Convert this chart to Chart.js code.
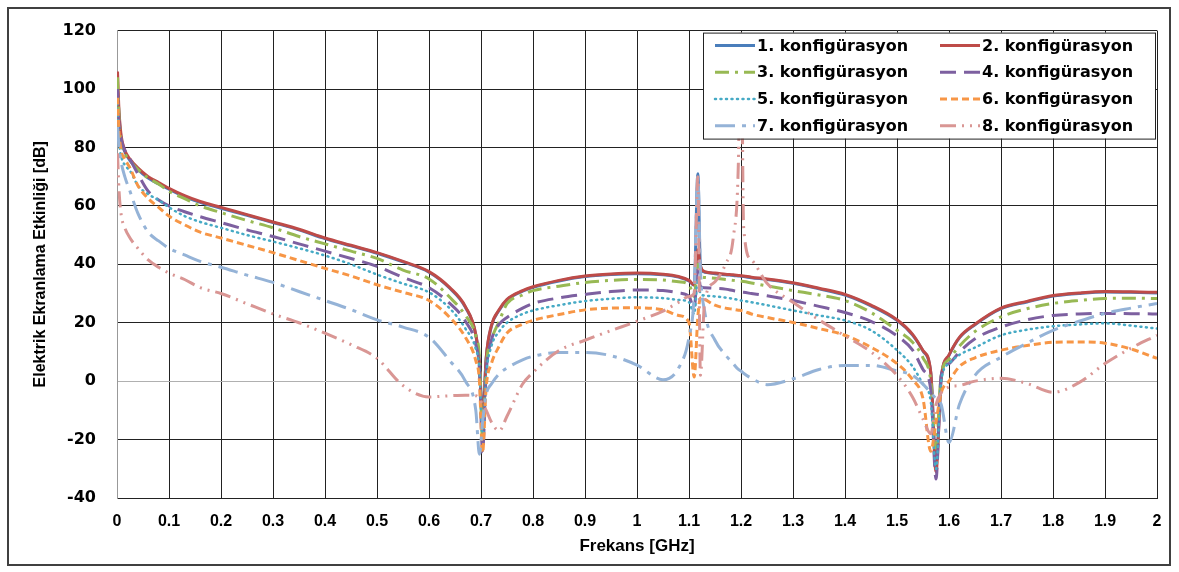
<!DOCTYPE html>
<html>
<head>
<meta charset="utf-8">
<script src="https://cdn.jsdelivr.net/npm/chart.js@4/dist/chart.umd.min.js"></script>
<style>
  html, body { margin: 0; padding: 0; background: #fff; }
  #wrap { width: 1179px; height: 572px; position: relative; }
</style>
</head>
<body>
<div id="wrap"><canvas id="myChart" width="1179" height="572"></canvas></div>
<script>
// frequency grid [GHz], shared by all series
var freq = [0.001, 0.004, 0.008, 0.015, 0.025, 0.04, 0.06, 0.08, 0.1, 0.13,
            0.16, 0.2, 0.25, 0.3, 0.35, 0.4, 0.45, 0.5, 0.55, 0.6,
            0.64, 0.67, 0.69, 0.697, 0.703, 0.71, 0.72, 0.735, 0.75, 0.78,
            0.8, 0.85, 0.9, 0.95, 1.0, 1.05, 1.08, 1.1, 1.11, 1.117,
            1.122, 1.13, 1.15, 1.17, 1.185, 1.195, 1.2, 1.205, 1.22, 1.25,
            1.3, 1.35, 1.4, 1.45, 1.5, 1.53, 1.55, 1.565, 1.575, 1.585,
            1.6, 1.62, 1.65, 1.7, 1.75, 1.8, 1.85, 1.9, 1.95, 2.0];

var seriesNames = ["1. konfigürasyon", "2. konfigürasyon", "3. konfigürasyon", "4. konfigürasyon",
                   "5. konfigürasyon", "6. konfigürasyon", "7. konfigürasyon", "8. konfigürasyon"];

// shielding effectiveness [dB]
var s1 = [100, 91, 83, 78.5, 75.5, 72.5, 69.5, 67.5, 65.7, 63.2,
          61.2, 59.2, 56.8, 54.3, 51.8, 48.8, 46.3, 43.8, 40.8, 37.3,
          31.8, 25.3, 15.8, 6, -12, 8, 18.8, 24.3, 27.8, 30.8,
          32.1, 34.3, 35.8, 36.5, 36.8, 36.4, 35.6, 34.3, 32.8, 71,
          39.3, 37.3, 36.8, 36.4, 36.2, 36, 35.9, 35.8, 35.4, 34.8,
          33.5, 31.6, 29.5, 25.8, 20.8, 15.8, 10.3, 2.8, -28, 1,
          8.8, 14.8, 19.3, 24.8, 27.1, 29.1, 30, 30.5, 30.4, 30.2];
var s2 = [106, 92, 84, 79, 76, 73, 70, 68, 66, 63.5,
          61.5, 59.5, 57, 54.5, 52, 49, 46.5, 44, 41, 37.5,
          32, 25.5, 16, 6, -15, 8, 19, 24.5, 28, 31,
          32.3, 34.5, 36, 36.7, 37, 36.6, 35.8, 34.5, 33, 45,
          39.5, 37.5, 37, 36.6, 36.4, 36.2, 36.1, 36, 35.6, 35,
          33.7, 31.8, 29.7, 26, 21, 16, 10.5, 3, -31, 1,
          9, 15, 19.5, 25, 27.3, 29.3, 30.2, 30.7, 30.6, 30.4];
var s3 = [104, 90, 82, 78, 75.5, 72.5, 69.5, 67.5, 65, 62.5,
          60, 57.7, 55, 52.5, 49.5, 47, 44.5, 42, 38, 35,
          28.7, 22.5, 15.5, 8, -20, 5, 14, 20.5, 26.5, 29.5,
          31, 32.5, 33.8, 34.5, 34.8, 34.6, 34, 33, 29, 40,
          36, 35.5, 35.2, 34.8, 34.5, 34.3, 34.2, 34.1, 33.6, 32.6,
          31, 29.5, 27.6, 23.5, 17.4, 13.3, 8, 0, -23, 2,
          7.5, 12, 17, 22, 24.8, 26.6, 27.6, 28.3, 28.4, 28.3];
var s4 = [100, 88, 83, 79, 76, 71, 65, 62, 60, 58,
          56.3, 54.3, 51.8, 49.5, 47, 44.5, 42, 39.3, 35.5, 32,
          26.6, 20.5, 12.5, 4, -24.5, 3, 14, 19.5, 21.8, 25,
          26.6, 28.5, 29.7, 30.7, 31.2, 31, 30.2, 29, 25, 38,
          32.5, 32, 31.8, 31.5, 31, 30.7, 30.5, 30.4, 30, 29.2,
          27.6, 25.6, 23.5, 20.5, 15.5, 10.6, 4, -3, -33.5, 2,
          6, 10, 14.5, 18.5, 21, 22.5, 23, 23.2, 23.1, 23];
var s5 = [95, 82, 77, 74, 72, 67, 64, 62, 59.5, 56.5,
          54.5, 52.5, 50, 47.8, 45.5, 43, 40, 36.5, 33.4, 30.4,
          24.9, 18, 11, 4, -20, 2, 12, 17, 20, 23,
          24.2, 26, 27.4, 28.2, 28.7, 28.4, 27.8, 27, 23, 35,
          30, 29.3, 29, 28.6, 28.2, 27.8, 27.6, 27.5, 27, 26,
          24.2, 22.5, 20.8, 17.4, 10.6, 5, -1, -7, -30, 0,
          6, 9, 11.5, 15.7, 17.6, 18.8, 19.4, 19.8, 19, 18];
var s6 = [97, 85, 79, 76, 73, 67, 62.5, 59.5, 56.5, 53.5,
          51, 49, 46.5, 44, 41.3, 38.6, 36, 33, 30.4, 27.6,
          21.8, 15, 7, 0, -24.5, -2, 6, 12, 16.5, 19.5,
          20.8, 22.8, 24.4, 25, 25.1, 24.4, 22.5, 20, 1.4, 22,
          28.5, 28, 26, 25, 24.6, 24.3, 24.2, 24, 23, 21.8,
          20.1, 18, 15.7, 11.6, 6, 0.5, -6, -24, -14, -4,
          0, 5, 8, 10.6, 12.2, 13.3, 13.4, 13, 11, 7.8];
var s7 = [87, 80, 75, 70, 65, 57.5, 51, 48, 45.5, 43.2,
          41, 39, 36.3, 33.8, 30.7, 27.6, 24.5, 21, 18.5, 15,
          7, 0, -10, -25, -14, -4.5, -1, 2.5, 4.5, 7.3,
          8.5, 9.8, 9.8, 8.7, 5.5, 0.5, 4.5, 15, 30, 70,
          38, 24, 14, 9, 6, 4, 3.5, 2.7, 1, -1.2,
          0.8, 4, 5.4, 5.4, 3.5, 2, -1, -4, -6, -8,
          -21, -8, 2, 8.2, 13, 17.4, 20.5, 23.2, 25, 26.6];
var s8 = [78, 65, 57, 52.5, 49, 45.5, 41.5, 39, 37, 34.8,
          32, 30, 26.5, 23, 20, 16.4, 12.5, 7.8, -1.5, -5.4,
          -5, -4.8, -5, -6, -8, -10, -14, -17, -12, -1,
          3, 10.5, 14, 17.3, 20.5, 24, 27, 29, 30, 70,
          2, 27, 34, 40, 49, 75, 130, 53, 41.5, 33.5,
          27, 21, 15.5, 10, 2, -5.5, -13, -18, -8, -4,
          -2, -1.5, 0, 1, -0.8, -3.8, -0.5, 6, 11.3, 15.7];

var xTicks = { min: 0, max: 2, step: 0.1 };
var yTicks = { min: -40, max: 120, step: 20 };

var allSeries = [s1, s2, s3, s4, s5, s6, s7, s8];
var lineColors = ["#4A7EBB", "#BE4B48", "#98B954", "#7D60A0", "#46AAC5", "#F79646", "#95B3D7", "#D99694"];
var lineDashes = [[], [], [14, 6, 3, 6], [16, 8], [1, 4.5], [7, 4], [20, 7, 4, 7], [16, 6, 2, 6, 2, 6]];

var datasets = [];
for (var i = 0; i < allSeries.length; i++) {
    var pts = [];
    for (var j = 0; j < freq.length; j++) {
        pts.push({ x: freq[j], y: allSeries[i][j] });
    }
    datasets.push({
        label: seriesNames[i],
        data: pts,
        borderColor: lineColors[i],
        backgroundColor: lineColors[i],
        borderWidth: i === 4 ? 2.5 : 3,
        borderDash: lineDashes[i],
        borderCapStyle: i === 4 ? "round" : "butt",
        pointRadius: 0,
        fill: false,
        cubicInterpolationMode: "monotone",
        order: allSeries.length - i
    });
}

// white page + outer frame
var framePlugin = {
    id: "frame",
    beforeDraw: function (chart) {
        var ctx = chart.ctx;
        ctx.save();
        ctx.fillStyle = "#fff";
        ctx.fillRect(0, 0, chart.width, chart.height);
        ctx.strokeStyle = "#404040";
        ctx.lineWidth = 2;
        ctx.strokeRect(8, 8, chart.width - 17, chart.height - 15);
        ctx.restore();
    }
};

// boxed two-column legend inside the plot (top right)
var boxLegend = {
    id: "boxLegend",
    afterDatasetsDraw: function (chart) {
        var ctx = chart.ctx;
        var area = chart.chartArea;
        var w = 452, h = 106;
        var bx = area.right - w - 2, by = area.top + 2;
        ctx.save();
        ctx.fillStyle = "#fff";
        ctx.fillRect(bx, by, w, h);
        ctx.strokeStyle = "#222";
        ctx.lineWidth = 1;
        ctx.strokeRect(bx + 0.5, by + 0.5, w, h);
        ctx.font = "bold 16px 'DejaVu Sans'";
        ctx.textBaseline = "middle";
        ctx.fillStyle = "#000";
        for (var k = 0; k < datasets.length; k++) {
            var col = k % 2, row = Math.floor(k / 2);
            var lx = bx + 12 + col * 225;
            var ly = by + 13 + row * 26.7;
            ctx.beginPath();
            ctx.strokeStyle = lineColors[k];
            ctx.lineWidth = datasets[k].borderWidth;
            ctx.lineCap = datasets[k].borderCapStyle;
            ctx.setLineDash(lineDashes[k]);
            ctx.moveTo(lx, ly);
            ctx.lineTo(lx + 40, ly);
            ctx.stroke();
            ctx.setLineDash([]);
            ctx.fillText(seriesNames[k], lx + 42, ly + 1);
        }
        ctx.restore();
    }
};

new Chart("myChart", {
    type: "line",
    data: { datasets: datasets },
    options: {
        responsive: false,
        animation: false,
        layout: { padding: { left: 10, right: 22, top: 29, bottom: 10 } },
        plugins: {
            legend: { display: false },
            tooltip: { enabled: false }
        },
        scales: {
            x: {
                type: "linear",
                min: xTicks.min,
                max: xTicks.max,
                afterFit: function (s) { s.height = 64; },
                ticks: {
                    stepSize: xTicks.step,
                    padding: 14,
                    color: "#000",
                    font: { family: "'Liberation Sans Narrow', 'Liberation Sans'", size: 16, weight: "bold" },
                    callback: function (v) { return String(Math.round(v * 10) / 10); }
                },
                grid: { color: "#222", lineWidth: 1, drawTicks: false },
                border: { color: "#222", width: 1 },
                title: {
                    display: true,
                    text: "Frekans [GHz]",
                    color: "#000",
                    padding: { top: 0, bottom: 5 },
                    font: { family: "'Liberation Sans Narrow', 'Liberation Sans'", size: 17, weight: "bold" }
                }
            },
            y: {
                min: yTicks.min,
                max: yTicks.max,
                afterFit: function (s) { s.width = 107; },
                ticks: {
                    stepSize: yTicks.step,
                    padding: 21,
                    color: "#000",
                    font: { family: "'DejaVu Sans'", size: 16, weight: "bold" }
                },
                grid: {
                    drawTicks: false,
                    lineWidth: 1,
                    color: function (c) { return c.tick && c.tick.value === 0 ? "#b0b0b0" : "#222"; }
                },
                border: { color: "#999", width: 1 },
                title: {
                    display: true,
                    text: "Elektrik Ekranlama Etkinliği [dB]",
                    color: "#000",
                    padding: { top: 21, bottom: 0 },
                    font: { family: "'Liberation Sans Narrow', 'Liberation Sans'", size: 16, weight: "bold" }
                }
            }
        }
    },
    plugins: [framePlugin, boxLegend]
});
</script>
</body>
</html>
